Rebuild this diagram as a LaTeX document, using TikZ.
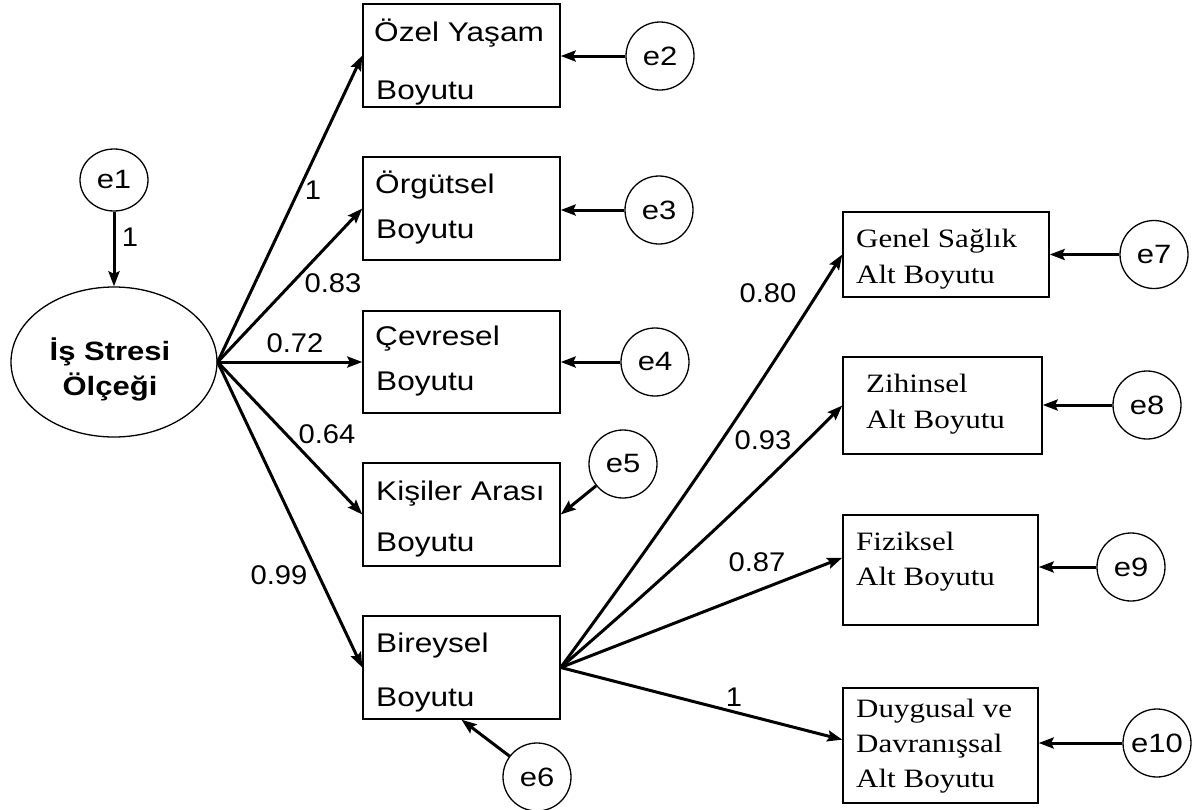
\documentclass[tikz,border=0pt]{standalone}
\usepackage{fontspec}
\usetikzlibrary{shapes.geometric,arrows.meta,calc}
\newfontfamily\sfA[FakeStretch=1.17]{Liberation Sans}
\newfontfamily\sfN[FakeStretch=1.08]{Liberation Sans}
\newfontfamily\rmA[FakeStretch=1.17]{Liberation Serif}
\begin{document}
\begin{tikzpicture}[x=1pt,y=-1pt,
  lab/.style={font=\sfN\fontsize{27}{30}\selectfont, inner sep=0pt},
  rlab/.style={font=\rmA\fontsize{26.5}{30}\selectfont, inner sep=0pt, anchor=base west},
  slab/.style={font=\sfA\fontsize{27}{30}\selectfont, inner sep=0pt, anchor=base west},
  obs/.style={draw, line width=1.4pt, rectangle, inner sep=0pt},
  err/.style={draw, line width=1.3pt, circle, minimum size=68pt, inner sep=0pt, font=\sfA\fontsize{26.5}{30}\selectfont},
  path/.style={line width=3pt, -{Stealth[length=15pt,width=11pt,inset=2.5pt]}}
]
\useasboundingbox (0,0) rectangle (1192,809);

% latent variable
\node[draw, line width=1.3pt, ellipse, minimum width=206pt, minimum height=150pt, inner sep=0pt] (lat) at (114,362) {};
\node[inner sep=0pt, anchor=base, font=\sfA\bfseries\fontsize{26.5}{30}\selectfont] (latA) at (110,360) {İş Stresi};
\node[inner sep=0pt, anchor=base, font=\sfA\bfseries\fontsize{26.5}{30}\selectfont] (latB) at (110,395) {Ölçeği};

% first-order indicators
\node[obs, minimum width=197pt, minimum height=103pt] (ozel) at (461.5,55.5) {};
\node[obs, minimum width=197pt, minimum height=103pt] (org)  at (461.5,208.5) {};
\node[obs, minimum width=197pt, minimum height=102pt] (cev)  at (461.5,362) {};
\node[obs, minimum width=197pt, minimum height=103pt] (kis)  at (461.5,514.5) {};
\node[obs, minimum width=197pt, minimum height=103pt] (bir)  at (461.5,667.5) {};

\node[slab] (ozelA) at (374,41) {Özel Yaşam};
\node[slab] (ozelB) at (376,99) {Boyutu};
\node[slab] (orgA) at (375,193) {Örgütsel};
\node[slab] (orgB) at (376,238) {Boyutu};
\node[slab] (cevA) at (375,345) {Çevresel};
\node[slab] (cevB) at (376,390) {Boyutu};
\node[slab] (kisA) at (376,500) {Kişiler Arası};
\node[slab] (kisB) at (376,551) {Boyutu};
\node[slab] (birA) at (376,652) {Bireysel};
\node[slab] (birB) at (376,706) {Boyutu};

% second-order indicators
\node[obs, minimum width=206pt, minimum height=85pt]  (gen) at (946,254.5) {};
\node[obs, minimum width=199pt, minimum height=97pt]  (zih) at (942.5,405.5) {};
\node[obs, minimum width=195pt, minimum height=110pt] (fiz) at (940.5,570) {};
\node[obs, minimum width=195pt, minimum height=115pt] (duy) at (940.5,745.5) {};

\node[rlab] (genA) at (856,247) {Genel Sağlık};
\node[rlab] (genB) at (856,283) {Alt Boyutu};
\node[rlab] (zihA) at (866,392) {Zihinsel};
\node[rlab] (zihB) at (866,428) {Alt Boyutu};
\node[rlab] (fizA) at (856,550) {Fiziksel};
\node[rlab] (fizB) at (856,585) {Alt Boyutu};
\node[rlab] (duyA) at (856,717) {Duygusal ve};
\node[rlab] (duyB) at (856,752) {Davranışsal};
\node[rlab] (duyC) at (856,787) {Alt Boyutu};

% error terms
\node[err, minimum width=68pt, minimum height=62pt, ellipse] (e1) at (114,180) {e1};
\node[err] (e2) at (660,56) {e2};
\node[err] (e3) at (659,210) {e3};
\node[err] (e4) at (655,362) {e4};
\node[err] (e5) at (623,464) {e5};
\node[err] (e6) at (537,777) {e6};
\node[err] (e7) at (1154,254.5) {e7};
\node[err] (e8) at (1147,405) {e8};
\node[err] (e9) at (1131,567) {e9};
\node[err] (e10) at (1157,743) {e10};

% loadings of the latent variable
\draw[path] (e1) -- (lat);
\draw[path] (lat.east) -- (ozel.west);
\draw[path] (lat.east) -- (org.west);
\draw[path] (lat.east) -- (cev.west);
\draw[path] (lat.east) -- (kis.west);
\draw[path] (lat.east) -- (bir.west);

% loadings of Bireysel Boyutu
\draw[path] (bir.east) to[bend right=2] (gen.west);
\draw[path] (bir.east) to[bend right=2] (zih.west);
\draw[path] (bir.east) -- ($(fiz.north west)!0.39!(fiz.south west)$);
\draw[path] (bir.east) -- ($(duy.north west)!0.45!(duy.south west)$);

% error paths
\draw[path] (e2.west) -- (e2.west -| ozel.east);
\draw[path] (e3.west) -- (e3.west -| org.east);
\draw[path] (e4.west) -- (e4.west -| cev.east);
\draw[path] (e5) -- (kis.east);
\draw[path] (e6) -- (bir.south);
\draw[path] (e7.west) -- (e7.west -| gen.east);
\draw[path] (e8.west) -- (e8.west -| zih.east);
\draw[path] (e9.west) -- (e9.west -| fiz.east);
\draw[path] (e10.west) -- (e10.west -| duy.east);

% coefficients
\node[lab] (c0) at (130,237) {1};
\node[lab] (c1) at (313,190) {1};
\node[lab] (c2) at (333,283) {0.83};
\node[lab] (c3) at (295,343) {0.72};
\node[lab] (c4) at (327,434) {0.64};
\node[lab] (c5) at (279,575) {0.99};
\node[lab] (c6) at (768,293) {0.80};
\node[lab] (c7) at (763,440) {0.93};
\node[lab] (c8) at (757,562) {0.87};
\node[lab] (c9) at (734,697) {1};
\end{tikzpicture}
\end{document}
